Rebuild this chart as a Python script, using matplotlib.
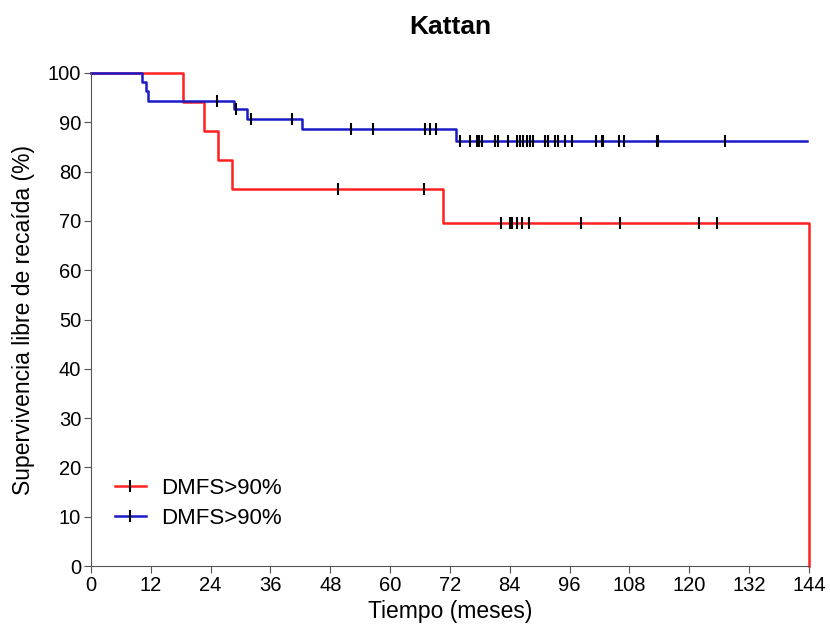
import numpy as np
from matplotlib import pyplot as plt
from matplotlib.lines import Line2D

plt.rcParams['font.family'] = ['Liberation Sans', 'DejaVu Sans']

# red group: step times and survival after each step
red_t = [0, 18.5, 22.7, 25.5, 28.2, 70.5, 143.9]
red_s = [100, 94.1, 88.2, 82.4, 76.5, 69.5, 0]
red_end = 143.9
red_cens_t = [49.5, 66.8, 82.2, 84.0, 84.4, 85.4, 86.4, 87.9, 98.2, 106.0, 122.0, 125.6]

# blue group
blue_t = [0, 10.2, 11.0, 11.5, 28.7, 31.2, 42.3, 73.3]
blue_s = [100, 98.1, 96.3, 94.4, 92.6, 90.6, 88.6, 86.3]
blue_end = 143.5
blue_cens_t = [25.2, 29.1, 32.1, 40.4, 52.1, 56.5, 67.0, 68.0, 69.2,
               74.1, 76.0, 77.4, 77.9, 78.4, 81.0, 81.7, 83.7, 85.4, 86.0,
               86.7, 87.4, 88.0, 88.7, 91.1, 91.7, 93.1, 93.7, 95.1, 96.4,
               101.2, 102.4, 102.7, 105.8, 106.8, 113.5, 113.8, 127.2]

labels = ['DMFS>90%', 'DMFS>90%']
colors = ['#ff2020', '#1a1ac8']


def surv_at(times, surv, t):
    idx = np.searchsorted(times, t, side='right') - 1
    return np.array(surv)[idx]


fig = plt.figure(figsize=(8.3, 6.33), dpi=100)
ax = fig.add_axes([0.1096, 0.1058, 0.8651, 0.7789])

for t, s, end, ct, c in [(red_t, red_s, red_end, red_cens_t, colors[0]),
                         (blue_t, blue_s, blue_end, blue_cens_t, colors[1])]:
    x = list(t) + [end]
    y = list(s) + [s[-1]]
    ax.step(x, y, where='post', color=c, lw=1.8, clip_on=False, zorder=2)
    ax.plot(ct, surv_at(t, s, ct), ls='none', marker='|', color='black',
            markersize=9, markeredgewidth=1.5, zorder=3)

ax.set_xlim(0, 144)
ax.set_ylim(0, 100)
ax.set_xticks(np.arange(0, 145, 12))
ax.set_yticks(np.arange(0, 101, 10))
ax.spines['top'].set_visible(False)
ax.spines['right'].set_visible(False)
ax.spines['left'].set_color('#555555')
ax.spines['bottom'].set_color('#555555')
ax.tick_params(direction='out', length=5, labelsize=14.5, color='#555555', pad=2)

ax.set_xlabel('Tiempo (meses)', fontsize=16.5, labelpad=4)
ax.set_ylabel('Supervivencia libre de recaída (%)', fontsize=16.5, labelpad=9)
ax.set_title('Kattan', fontsize=19, fontweight='bold', pad=28)

handles = [Line2D([0], [0], color=c, lw=1.8, marker='|', markeredgecolor='black',
                  markersize=9, markeredgewidth=1.5) for c in colors]
ax.legend(handles, labels, loc='lower left', bbox_to_anchor=(0.005, 0.035),
          frameon=False, fontsize=16, handlelength=1.4, handletextpad=0.7,
          numpoints=1, labelspacing=0.4)

plt.savefig('out.png')
